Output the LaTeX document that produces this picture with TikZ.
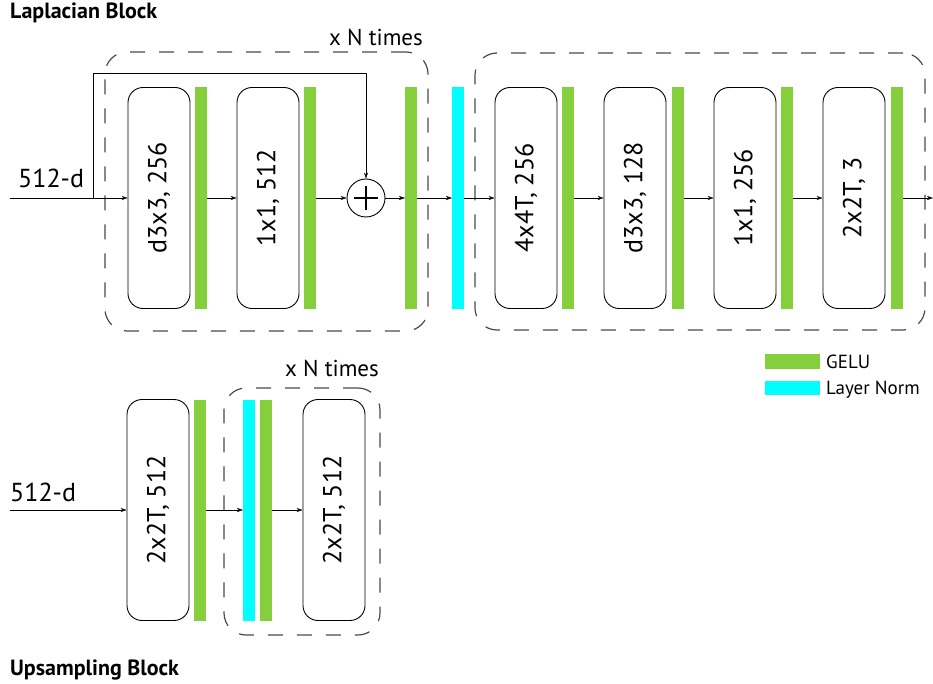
\documentclass[tikz,border=0pt]{standalone}
\usepackage{fontspec}
\setmainfont{PT Sans}
\usetikzlibrary{arrows.meta}
\definecolor{gelu}{HTML}{85CE3C}
\definecolor{lnorm}{HTML}{00FFFF}
\definecolor{dashgray}{HTML}{4A4A4A}
\begin{document}
\begin{tikzpicture}[x=1pt,y=-1pt,line join=round,>={Stealth[length=6pt,width=4pt]},
	blk/.style={draw,line width=0.9pt,rounded corners=15pt,rotate=90,minimum width=221pt,minimum height=62pt,inner sep=0pt,font=\fontsize{26}{28}\selectfont},
	bar/.style={fill=#1,minimum width=12pt,minimum height=221pt,inner sep=0pt,outer sep=0pt},
	grp/.style={draw=dashgray,line width=1.2pt,dash pattern=on 15pt off 14pt,rounded corners=22pt,inner sep=0pt},
	txt/.style={inner sep=0pt,font=\fontsize{26}{28}\selectfont},
	lab/.style={inner sep=0pt,font=\fontsize{23}{25}\selectfont},
	ttl/.style={inner sep=0pt,font=\fontsize{22}{24}\selectfont\bfseries},
	legtxt/.style={inner sep=0pt,font=\fontsize{19}{21}\selectfont}]
	\useasboundingbox (0,0) rectangle (933,684);
	% Laplacian block
	\node[ttl,anchor=base west] (t1) at (10,19) {Laplacian Block};
	\node[grp,minimum width=323pt,minimum height=279pt] (rep1) at (266.5,191.5) {};
	\node[grp,minimum width=450pt,minimum height=277pt] (rep2) at (700,191.5) {};
	\node[lab,anchor=base west] (n1) at (329,46) {x N times};
	\node[txt,anchor=base west] (d1) at (18,188) {512-d};
	\node[blk] (b1) at (159,198) {d3x3, 256};
	\node[bar=gelu] (g1) at (201,198) {};
	\node[blk] (b2) at (268,198) {1x1, 512};
	\node[bar=gelu] (g2) at (310,198) {};
	\node[draw,circle,line width=0.9pt,minimum size=38pt,inner sep=0pt] (add) at (366,198) {};
	\draw[line width=2.6pt] ([xshift=-12pt]add.center) -- ([xshift=12pt]add.center);
	\draw[line width=2.6pt] ([yshift=-12pt]add.center) -- ([yshift=12pt]add.center);
	\node[bar=gelu] (g3) at (411,198) {};
	\node[bar=lnorm] (ln1) at (458,198) {};
	\node[blk] (b3) at (526,198) {4x4T, 256};
	\node[bar=gelu] (g4) at (568,198) {};
	\node[blk] (b4) at (635,198) {d3x3, 128};
	\node[bar=gelu] (g5) at (678,198) {};
	\node[blk] (b5) at (745,198) {1x1, 256};
	\node[bar=gelu] (g6) at (787,198) {};
	\node[blk] (b6) at (854,198) {2x2T, 3};
	\node[bar=gelu] (g7) at (897,198) {};
	\coordinate (in1) at (10,198);
	\coordinate (sk) at (93,198);
	\coordinate (top) at (93,73);
	\coordinate (out1) at (933,198);
	\draw[->] (in1) -- (b1);
	\draw[->] (sk) -- (top) -| (add);
	\draw[->] (g1) -- (b2);
	\draw[->] (g2) -- (add);
	\draw[->] (add) -- (g3);
	\draw[->] (g3) -- (ln1);
	\draw[->] (ln1) -- (b3);
	\draw[->] (g4) -- (b4);
	\draw[->] (g5) -- (b5);
	\draw[->] (g6) -- (b6);
	\draw[->] (g7) -- (out1);
	% legend
	\node[fill=gelu,minimum width=55pt,minimum height=15pt,inner sep=0pt] (lg1) at (792.5,361.5) {};
	\node[legtxt,anchor=base west] (lt1) at (826,368) {GELU};
	\node[fill=lnorm,minimum width=55pt,minimum height=14pt,inner sep=0pt] (lg2) at (792.5,388) {};
	\node[legtxt,anchor=base west] (lt2) at (826,394) {Layer Norm};
	% Upsampling block
	\node[grp,minimum width=156pt,minimum height=247pt] (rep3) at (302,511.5) {};
	\node[lab,anchor=base west] (n2) at (285,376) {x N times};
	\node[txt,anchor=base west] (d2) at (10,501) {512-d};
	\node[blk] (u1) at (158,510) {2x2T, 512};
	\node[bar=gelu] (g8) at (200,510) {};
	\node[bar=lnorm] (ln2) at (249,510) {};
	\node[bar=gelu] (g9) at (266,510) {};
	\node[blk] (u2) at (334,510) {2x2T, 512};
	\coordinate (in2) at (10,510);
	\draw[->] (in2) -- (u1);
	\draw[->] (g8) -- (ln2);
	\draw[->] (g9) -- (u2);
	\node[ttl,anchor=base west] (t2) at (10,675) {Upsampling Block};
\end{tikzpicture}
\end{document}
